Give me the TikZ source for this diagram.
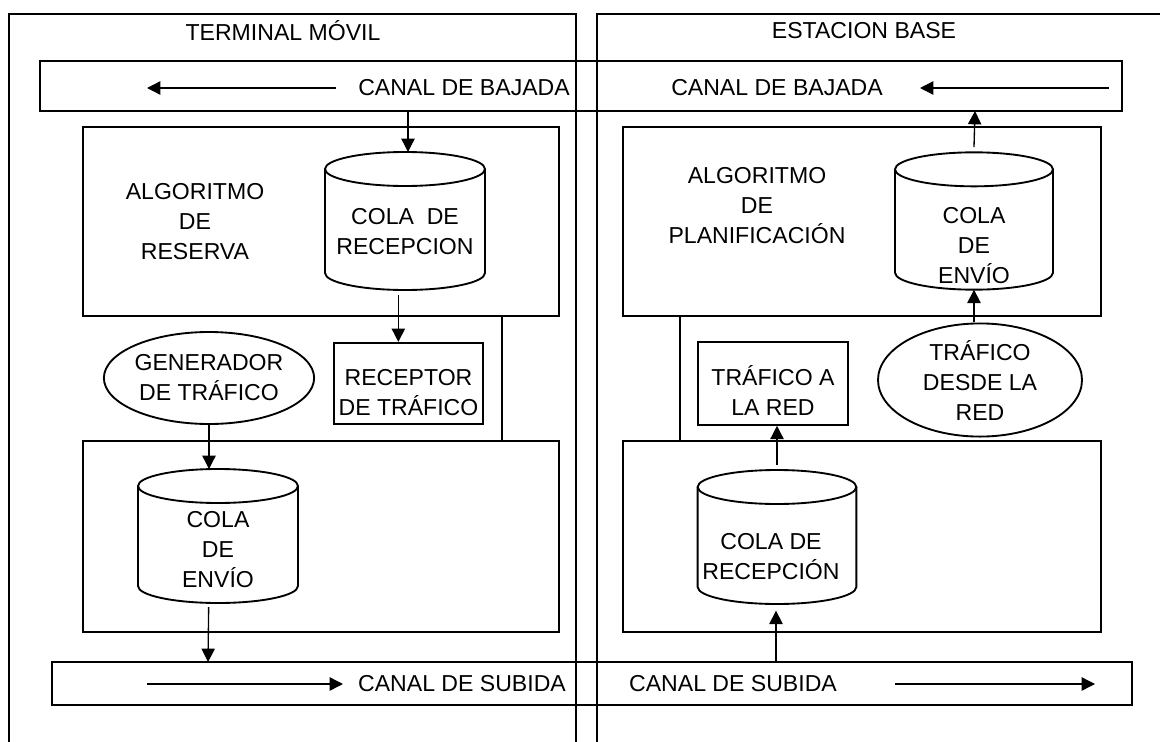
\documentclass[tikz,border=0pt]{standalone}
\usepackage{fontspec}
\setmainfont{Liberation Sans}
\usetikzlibrary{shapes.geometric,arrows.meta}

\tikzset{
  caja/.style={draw,line width=1.4pt},
  flecha/.style={-{Triangle[length=10pt,width=10pt]},line width=1pt},
  cola/.style={rectangle,inner sep=0pt,outer sep=0pt},
  texto/.style={align=center,inner sep=0pt},
}

\begin{document}
\begin{tikzpicture}[x=0.75pt,y=-0.75pt,
  every node/.style={font=\fontsize{17.3}{22.5}\selectfont}]
\useasboundingbox (0,0) rectangle (1160,742);

%Shape: columnas
\draw [caja] (9,742) -- (9,14) -- (576,14) -- (576,742) ;
\draw [caja] (1160,14) -- (597,14) -- (597,742) ;
%Shape: canales
\draw [caja] (40,61) rectangle (1122,111) ;
\draw [caja] (52,662) rectangle (1132,705) ;
%Shape: bloques terminal
\draw [caja] (83,127) rectangle (559,316) ;
\draw [caja] (83,316) -- (502,316) -- (502,441) -- (83,441) ;
\draw [caja] (83,441) rectangle (559,632) ;
%Shape: bloques estacion
\draw [caja] (623,127) rectangle (1101,316) ;
\draw [caja] (1101,316) -- (680,316) -- (680,441) -- (1101,441) ;
\draw [caja] (623,441) rectangle (1101,632) ;

% Text Node
\node (tituloTM) [texto] at (283,31) {TERMINAL MÓVIL};
% Text Node
\node (tituloEB) [texto] at (864,31) {ESTACION BASE};
% Text Node
\node (bajadaTM) [texto] at (464,88) {CANAL DE BAJADA};
% Text Node
\node (bajadaEB) [texto] at (777,88) {CANAL DE BAJADA};
% Text Node
\node (subidaTM) [texto] at (462,684) {CANAL DE SUBIDA};
% Text Node
\node (subidaEB) [texto] at (733,684) {CANAL DE SUBIDA};
% Text Node
\node (reserva) [texto] at (195,222) {ALGORITMO\\DE\\RESERVA};
% Text Node
\node (planif) [texto] at (757,206) {ALGORITMO\\DE\\PLANIFICACIÓN};

%Shape: Can [colarecTM]
\node (colarecTM) [cola,minimum width=120pt,minimum height=103.5pt] at (405,221) {};
\draw [caja] ([yshift=-12.75pt]colarecTM.north) ellipse [x radius=60pt,y radius=12.75pt] ;
\draw [caja] ([yshift=-12.75pt]colarecTM.north west) -- ([yshift=12.75pt]colarecTM.south west) arc [start angle=180,end angle=360,x radius=60pt,y radius=12.75pt] -- ([yshift=-12.75pt]colarecTM.north east) ;
\node (colarecTMt) [texto] at (405,232) {COLA\ \ DE\\RECEPCION};
%Shape: Can [colaenvTM]
\node (colaenvTM) [cola,minimum width=120pt,minimum height=100.5pt] at (218,536) {};
\draw [caja] ([yshift=-12.75pt]colaenvTM.north) ellipse [x radius=60pt,y radius=12.75pt] ;
\draw [caja] ([yshift=-12.75pt]colaenvTM.north west) -- ([yshift=12.75pt]colaenvTM.south west) arc [start angle=180,end angle=360,x radius=60pt,y radius=12.75pt] -- ([yshift=-12.75pt]colaenvTM.north east) ;
\node (colaenvTMt) [texto] at (218,550) {COLA\\DE\\ENVÍO};
%Shape: Can [colaenvEB]
\node (colaenvEB) [cola,minimum width=118.5pt,minimum height=103pt] at (974,221) {};
\draw [caja] ([yshift=-12.75pt]colaenvEB.north) ellipse [x radius=59.25pt,y radius=12.75pt] ;
\draw [caja] ([yshift=-12.75pt]colaenvEB.north west) -- ([yshift=12.75pt]colaenvEB.south west) arc [start angle=180,end angle=360,x radius=59.25pt,y radius=12.75pt] -- ([yshift=-12.75pt]colaenvEB.north east) ;
\node (colaenvEBt) [texto] at (974,246) {COLA\\DE\\ENVÍO};
%Shape: Can [colarecEB]
\node (colarecEB) [cola,minimum width=119pt,minimum height=100.5pt] at (777,537) {};
\draw [caja] ([yshift=-12.75pt]colarecEB.north) ellipse [x radius=59.5pt,y radius=12.75pt] ;
\draw [caja] ([yshift=-12.75pt]colarecEB.north west) -- ([yshift=12.75pt]colarecEB.south west) arc [start angle=180,end angle=360,x radius=59.5pt,y radius=12.75pt] -- ([yshift=-12.75pt]colarecEB.north east) ;
\node (colarecEBt) [texto] at (771,557) {COLA DE\\RECEPCIÓN};

%Generador y receptor
\node (generador) [caja,ellipse,minimum width=151.5pt,minimum height=69pt,texto] at (209,378) {GENERADOR\\DE TRÁFICO};
\node (receptor) [caja,minimum width=112pt,minimum height=61pt,texto] at (408.5,383.5) {\rule{0pt}{26pt}RECEPTOR\\DE TRÁFICO};
\node (alared) [caja,minimum width=112.5pt,minimum height=62pt,texto] at (773,383.5) {\rule{0pt}{26pt}TRÁFICO A\\LA RED};
\node (desdered) [caja,ellipse,minimum width=153pt,minimum height=70.5pt,texto] at (980,380) {TRÁFICO\\DESDE LA\\RED};

%Coordenadas en los canales
\coordinate (bTMa) at (336,88);
\coordinate (bTMb) at (147,88);
\coordinate (bEBa) at (1109,88);
\coordinate (bEBb) at (920,88);
\coordinate (sTMa) at (147,684);
\coordinate (sTMb) at (343,684);
\coordinate (sEBa) at (895,684);
\coordinate (sEBb) at (1095,684);
\coordinate (bajadaTM-in) at (408,111);
\coordinate (bajadaEB-in) at (975,111);
\coordinate (subidaTM-in) at (208,662);
\coordinate (subidaEB-in) at (776,662);

%Flechas
\draw [flecha] (bTMa) -- (bTMb) ;
\draw [flecha] (bEBa) -- (bEBb) ;
\draw [flecha] (sTMa) -- (sTMb) ;
\draw [flecha] (sEBa) -- (sEBb) ;
\draw [flecha] (bajadaTM-in) -- (bajadaTM-in |- colarecTM.north) ;
\draw [flecha] ([xshift=-5pt,yshift=-4pt]colarecTM.south) -- ([xshift=-5pt]colarecTM.south |- receptor.north) ;
\draw [flecha] (generador.south) -- (generador.south |- colaenvTM.north) ;
\draw [flecha] ([xshift=-7pt,yshift=-3pt]colaenvTM.south) -- (subidaTM-in) ;
\draw [flecha] (subidaEB-in) -- ([yshift=-5pt]subidaEB-in |- colarecEB.south) ;
\draw [flecha] ([yshift=4pt]colarecEB.north) -- (colarecEB.north |- alared.south) ;
\draw [flecha] (desdered.north -| colaenvEB.south) -- (colaenvEB.south) ;
\draw [flecha] ([yshift=4pt]colaenvEB.north) -- (bajadaEB-in) ;
\end{tikzpicture}
\end{document}
